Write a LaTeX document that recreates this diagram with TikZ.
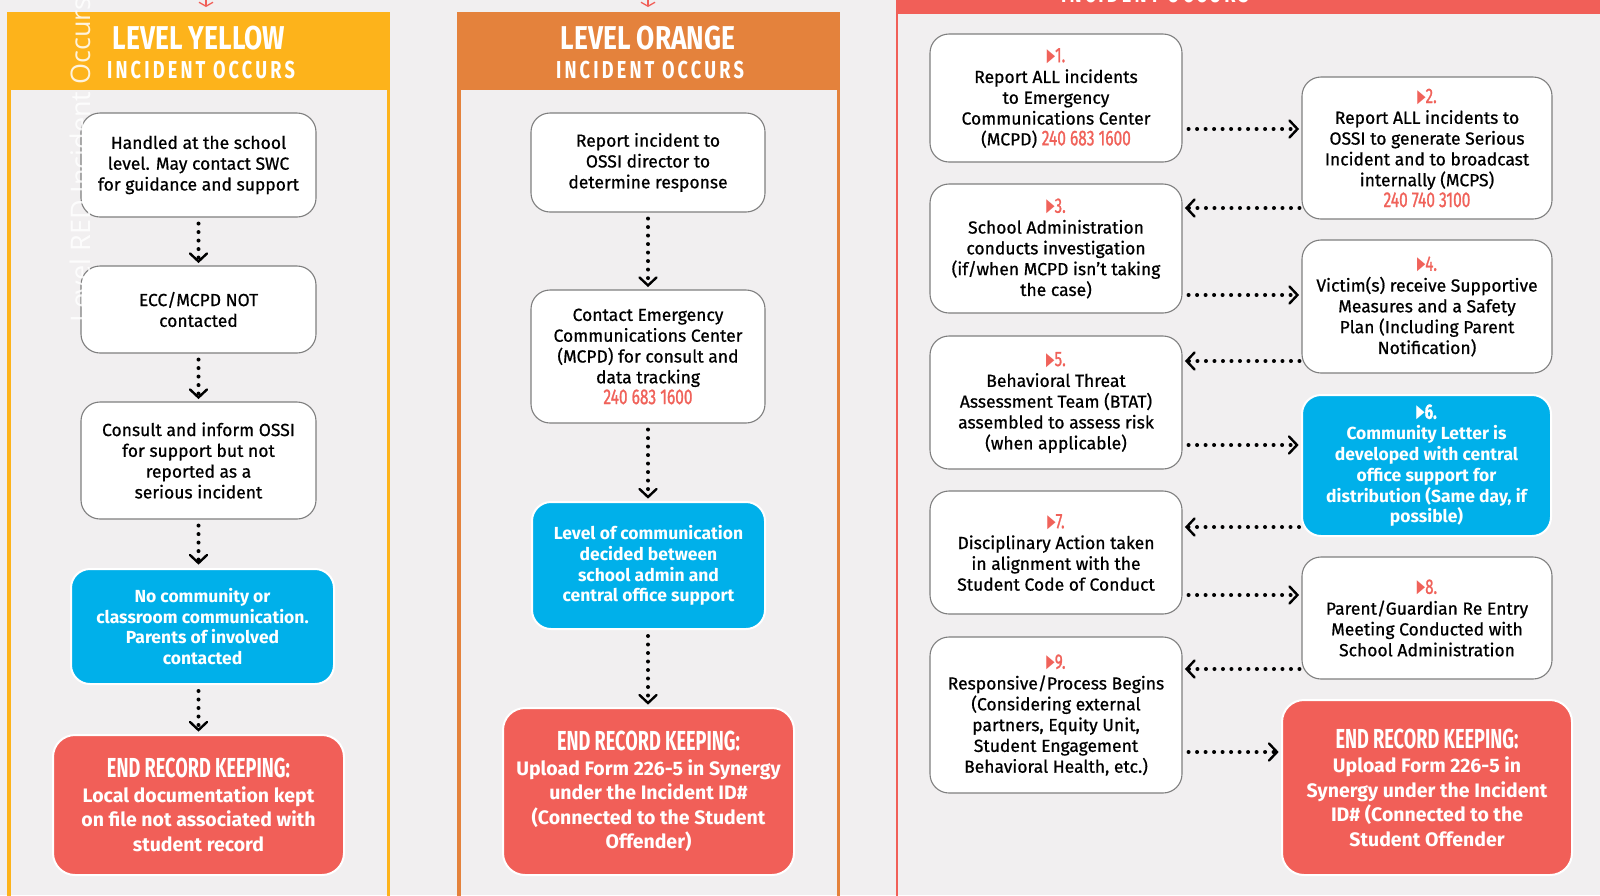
\documentclass[tikz,border=0pt]{standalone}
\usepackage{fontspec}
\setmainfont{Fira Sans}[UprightFeatures={FakeBold=0.7}]
\newfontfamily\bodyfam{Fira Sans}[FakeBold=0.7]
\newfontfamily\condfont{Fira Sans}[FakeStretch=0.8]
\newfontfamily\numfont{Fira Sans}[FakeStretch=0.72,FakeBold=1]
\newfontfamily\narrowfont{Fira Sans}[FakeStretch=0.66]
\newfontfamily\condspaced{Fira Sans}[FakeStretch=0.74,LetterSpace=13]
\newfontfamily\ghostfont{Open Sans}
\newfontfamily\symfont{DejaVu Sans}
\usetikzlibrary{arrows.meta,calc,decorations.markings}
\definecolor{bg}{HTML}{F1EFF0}
\definecolor{ylw}{HTML}{FDB31B}
\definecolor{org}{HTML}{E4823C}
\definecolor{endred}{HTML}{F15F58}
\definecolor{cyanb}{HTML}{00B0EA}
\definecolor{numred}{HTML}{F0625A}
\definecolor{boxgrey}{HTML}{7F7F7F}
\newcommand{\numlab}[1]{{\color{numred}\raisebox{1pt}{\scalebox{0.62}[1.05]{\symfont ▶}}{\numfont\fontsize{21}{19}\selectfont #1.}}}
\newcommand{\phone}[1]{{\color{numred}\numfont\fontsize{21.5}{19}\selectfont #1}}
\newcommand{\recordhead}{{\narrowfont\bfseries\fontsize{27.5}{30}\selectfont END RECORD KEEPING:}}
\tikzset{
  bodyfont/.style={font=\bodyfam\fontsize{17.5}{20.8}\selectfont},
  wbox/.style={rectangle, rounded corners=19pt, draw=boxgrey, line width=1.1pt, fill=white,
    align=center, inner sep=0pt, bodyfont},
  bbox/.style={rectangle, rounded corners=19pt, draw=white, line width=2pt, fill=cyanb,
    align=center, inner sep=0pt, text=white, font=\bfseries\fontsize{17.5}{20.8}\selectfont},
  rbox/.style={rectangle, rounded corners=22pt, draw=white, line width=2pt, fill=endred,
    align=center, inner sep=0pt, text=white, font=\bfseries\fontsize{19.5}{24.5}\selectfont},
  hdrbig/.style={text=white, inner sep=0pt, font=\condfont\bfseries\fontsize{33}{33}\selectfont},
  hdrsmall/.style={text=white, inner sep=0pt, font=\condspaced\bfseries\fontsize{24.5}{24}\selectfont},
  dotarr/.style={black, line width=4pt, line cap=round, dash pattern=on 0pt off 8.5pt,
    postaction={decorate},
    decoration={markings, mark=at position 1 with {
      \draw[solid, line width=2.4pt, line cap=round, line join=miter] (-8,-8.5) -- (0,0) -- (-8,8.5);}}},
  toparr/.style={endred, line width=1.3pt, -{Straight Barb[length=4pt,width=14pt]}}
}
\begin{document}
\begin{tikzpicture}[x=1pt,y=-1pt]
\useasboundingbox (0,0) rectangle (1600,895);
\clip (0,0) rectangle (1600,895);
\fill[bg] (0,0) rectangle (1600,895);

% ---------- frames ----------
\fill[ylw] (7,12) rectangle (390,90);
\draw[ylw, line width=3.5pt] (9,90) -- (9,900);
\draw[ylw, line width=3pt] (388.5,90) -- (388.5,900);
\fill[org] (457,12) rectangle (840,90);
\draw[org, line width=3.5pt] (459,90) -- (459,900);
\draw[org, line width=3pt] (838,90) -- (838,900);
\fill[endred] (896,-10) rectangle (1610,14);
\draw[endred, line width=2.5pt] (897,14) -- (897,900);

% top arrows entering the yellow and orange headers
\coordinate (ta1) at (206,-14);
\coordinate (tb1) at (206,7);
\coordinate (ta2) at (648,-14);
\coordinate (tb2) at (648,7);
\draw[toparr] (ta1) -- (tb1);
\draw[toparr] (ta2) -- (tb2);

% ---------- headers ----------
\node[hdrbig] (yh1) at (199,38) {LEVEL YELLOW};
\node[hdrsmall] (yh2) at (201,70.5) {INCIDENT OCCURS};
\node[hdrbig] (oh1) at (648,38) {LEVEL ORANGE};
\node[hdrsmall] (oh2) at (650,70.5) {INCIDENT OCCURS};
\node[hdrsmall] (rh2) at (1155,-5.5) {INCIDENT OCCURS};

% ---------- yellow column ----------
\node[wbox, minimum width=235pt, minimum height=104pt] (y1) at (198.5,165)
  {Handled at the school\\level. May contact SWC\\for guidance and support};
\node[wbox, minimum width=235pt, minimum height=87pt] (y2) at (198.5,309.5)
  {ECC/MCPD NOT\\contacted};
\node[wbox, minimum width=235pt, minimum height=117pt] (y3) at (198.5,460.5)
  {Consult and inform OSSI\\for support but not\\reported as a\\serious incident};
\node[bbox, minimum width=263pt, minimum height=115pt] (y4) at (202.5,626.5)
  {No community or\\classroom communication.\\Parents of involved\\contacted};
\node[rbox, minimum width=291pt, minimum height=140pt] (y5) at (198.5,805)
  {\recordhead\\Local documentation kept\\on file not associated with\\student record};

\draw[dotarr] ($(y1.south)+(0,6)$) -- ($(y1.south |- y2.north)+(0,-4)$);
\draw[dotarr] ($(y2.south)+(0,6)$) -- ($(y2.south |- y3.north)+(0,-4)$);
\draw[dotarr] ($(y3.south)+(0,6)$) -- ($(y3.south |- y4.north)+(0,-5)$);
\draw[dotarr] ($(y3.south |- y4.south)+(0,6)$) -- ($(y3.south |- y5.north)+(0,-4)$);

% ---------- orange column ----------
\node[wbox, minimum width=234pt, minimum height=99pt] (o1) at (648,162.5)
  {Report incident to\\OSSI director to\\determine response};
\node[wbox, minimum width=234pt, minimum height=133pt] (o2) at (648,356.5)
  {Contact Emergency\\Communications Center\\(MCPD) for consult and\\data tracking\\\phone{240 683 1600}};
\node[bbox, minimum width=233pt, minimum height=127pt] (o3) at (648.5,565.5)
  {Level of communication\\decided between\\school admin and\\central office support};
\node[rbox, minimum width=291pt, minimum height=167pt] (o4) at (648.5,791.5)
  {\recordhead\\Upload Form 226-5 in Synergy\\under the Incident ID\#\\(Connected to the Student\\Offender)};

\draw[dotarr] ($(o1.south)+(0,6)$) -- ($(o1.south |- o2.north)+(0,-4)$);
\draw[dotarr] ($(o2.south)+(0,6)$) -- ($(o2.south |- o3.north)+(0,-4)$);
\draw[dotarr] ($(o2.south |- o3.south)+(0,6)$) -- ($(o2.south |- o4.north)+(0,-4)$);

% ---------- red column ----------
\node[wbox, minimum width=252pt, minimum height=128pt] (r1) at (1056,98)
  {\numlab{1}\\Report ALL incidents\\to Emergency\\Communications Center\\(MCPD) \phone{240 683 1600}};
\node[wbox, minimum width=250pt, minimum height=142pt] (r2) at (1427,148)
  {\numlab{2}\\Report ALL incidents to\\OSSI to generate Serious\\Incident and to broadcast\\internally (MCPS)\\\phone{240 740 3100}};
\node[wbox, minimum width=252pt, minimum height=129pt] (r3) at (1056,248.5)
  {\numlab{3}\\School Administration\\conducts investigation\\(if/when MCPD isn’t taking\\the case)};
\node[wbox, minimum width=250pt, minimum height=133pt] (r4) at (1427,306.5)
  {\numlab{4}\\Victim(s) receive Supportive\\Measures and a Safety\\Plan (Including Parent\\Notification)};
\node[wbox, minimum width=252pt, minimum height=133pt] (r5) at (1056,402.5)
  {\numlab{5}\\Behavioral Threat\\Assessment Team (BTAT)\\assembled to assess risk\\(when applicable)};
\node[bbox, minimum width=249pt, minimum height=141pt] (r6) at (1426.5,465.5)
  {{\color{white}\raisebox{1pt}{\scalebox{0.62}[1.05]{\symfont ▶}}{\numfont\fontsize{21}{19}\selectfont 6.}}\\Community Letter  is\\developed with central\\office support for\\distribution (Same day, if\\possible)};
\node[wbox, minimum width=252pt, minimum height=123pt] (r7) at (1056,552.5)
  {\numlab{7}\\Disciplinary Action taken\\in alignment with the\\Student Code of Conduct};
\node[wbox, minimum width=250pt, minimum height=122pt] (r8) at (1427,618)
  {\numlab{8}\\Parent/Guardian Re Entry\\Meeting Conducted with\\School Administration};
\node[wbox, minimum width=252pt, minimum height=156pt] (r9) at (1056,715)
  {\numlab{9}\\Responsive/Process Begins\\(Considering external\\partners, Equity Unit,\\Student Engagement\\Behavioral Health, etc.)};
\node[rbox, minimum width=290pt, minimum height=175pt] (r10) at (1427,787.5)
  {\recordhead\\Upload Form 226-5 in\\Synergy under the Incident\\ID\# (Connected to the\\Student Offender};

\coordinate (h1) at (0,129);
\coordinate (h2) at (0,208);
\coordinate (h3) at (0,295);
\coordinate (h4) at (0,361);
\coordinate (h5) at (0,445);
\coordinate (h6) at (0,527);
\coordinate (h7) at (0,595);
\coordinate (h8) at (0,669);
\coordinate (h9) at (0,752);
\draw[dotarr] ($(r1.east |- h1)+(6,0)$) -- ($(r2.west |- h1)+(-4,0)$);
\draw[dotarr] ($(r2.west |- h2)+(-2,0)$) -- ($(r3.east |- h2)+(4,0)$);
\draw[dotarr] ($(r3.east |- h3)+(6,0)$) -- ($(r4.west |- h3)+(-4,0)$);
\draw[dotarr] ($(r4.west |- h4)+(-2,0)$) -- ($(r5.east |- h4)+(4,0)$);
\draw[dotarr] ($(r5.east |- h5)+(6,0)$) -- ($(r6.west |- h5)+(-4,0)$);
\draw[dotarr] ($(r6.west |- h6)+(-2,0)$) -- ($(r7.east |- h6)+(4,0)$);
\draw[dotarr] ($(r7.east |- h7)+(6,0)$) -- ($(r8.west |- h7)+(-4,0)$);
\draw[dotarr] ($(r8.west |- h8)+(-2,0)$) -- ($(r9.east |- h8)+(4,0)$);
\draw[dotarr] ($(r9.east |- h9)+(6,0)$) -- ($(r10.west |- h9)+(-4,0)$);

% ---------- ghost label ----------
\node[rotate=90, anchor=base, inner sep=0pt, text=white, opacity=0.85,
  font=\ghostfont\fontsize{27}{27}\selectfont] (ghost) at (90,160) {Level RED Incident Occurs};
\end{tikzpicture}
\end{document}
